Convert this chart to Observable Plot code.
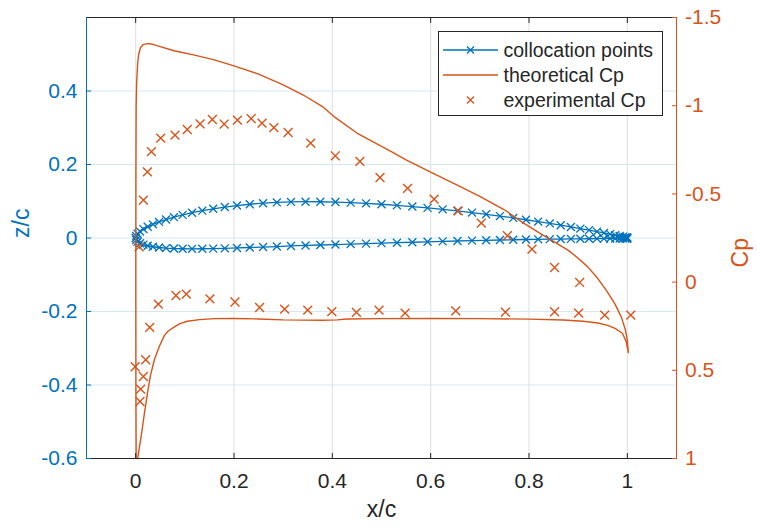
<!DOCTYPE html>
<html><head><meta charset="utf-8">
<script src="https://cdn.jsdelivr.net/npm/d3@7"></script>
<script src="https://cdn.jsdelivr.net/npm/@observablehq/plot@0.6"></script>
<style>
body{margin:0;background:#fff;}
#wrap{position:relative;width:757px;height:530px;font-family:"Liberation Sans",Arial,sans-serif;}
</style></head><body><div id="wrap"></div>
<script>
// ---- data ----
const xTicks = [0, 0.2, 0.4, 0.6, 0.8, 1];
const zTicks = [-0.6, -0.4, -0.2, 0, 0.2, 0.4];
const cpTicks = [-1.5, -1, -0.5, 0, 0.5, 1];
const seriesNames = ["collocation points", "theoretical Cp", "experimental Cp"];

// collocation points (airfoil surface), x/c and z/c
const colX = [0,0.00099,0.00394,0.00886,0.01571,0.02447,0.03511,0.04759,0.06185,0.07784,0.09549,0.11474,0.13552,0.15773,0.18129,0.20611,0.23209,0.25912,0.28711,0.31594,0.34549,0.37566,0.40631,0.43733,0.4686,0.5,0.5314,0.56267,0.59369,0.62434,0.65451,0.68406,0.71289,0.74088,0.76791,0.79389,0.81871,0.84227,0.86448,0.88526,0.90451,0.92216,0.93815,0.95241,0.96489,0.97553,0.98429,0.99114,0.99606,0.99901,1];
const colZUpper = [0,0.0057,0.0117,0.0178,0.0242,0.0306,0.0372,0.0438,0.0503,0.0567,0.0629,0.0688,0.0744,0.0795,0.0842,0.0883,0.0918,0.0947,0.0968,0.0982,0.0988,0.0987,0.0978,0.0963,0.0943,0.0918,0.0889,0.0856,0.0820,0.0780,0.0737,0.0692,0.0645,0.0596,0.0547,0.0497,0.0447,0.0397,0.0348,0.0301,0.0256,0.0214,0.0174,0.0138,0.0106,0.0078,0.0055,0.0037,0.0023,0.0015,0.0013];
const colZLower = [0,-0.0053,-0.0101,-0.0143,-0.0180,-0.0211,-0.0238,-0.0258,-0.0274,-0.0286,-0.0292,-0.0295,-0.0293,-0.0289,-0.0281,-0.0271,-0.0259,-0.0246,-0.0232,-0.0217,-0.0203,-0.0190,-0.0178,-0.0166,-0.0153,-0.0141,-0.0128,-0.0115,-0.0103,-0.0092,-0.0081,-0.0071,-0.0062,-0.0055,-0.0048,-0.0041,-0.0036,-0.0032,-0.0028,-0.0025,-0.0022,-0.0020,-0.0018,-0.0017,-0.0015,-0.0014,-0.0014,-0.0013,-0.0013,-0.0013,-0.0013];

// theoretical Cp (closed loop: upper surface LE->TE, lower surface TE->LE)
const thX = [0.001,0.0005,0.0003,0.0005,0.001,0.002,0.004,0.006,0.010,0.015,0.024,0.035,0.05,0.08,0.12,0.16,0.2,0.25,0.3,0.34,0.38,0.405,0.45,0.5,0.52,0.55,0.6,0.65,0.7,0.75,0.786,0.82,0.854,0.88,0.9,0.92,0.94,0.958,0.975,0.988,0.996,1.0,1.002,0.998,0.99,0.975,0.96,0.94,0.91,0.87,0.8,0.7,0.6,0.5,0.43,0.41,0.38,0.3,0.25,0.2,0.16,0.13,0.105,0.09,0.078,0.065,0.058,0.048,0.038,0.03,0.024,0.018,0.013,0.008,0.004];
const thCp = [1.0,0.6,0.0,-0.6,-1.0,-1.13,-1.24,-1.29,-1.33,-1.346,-1.352,-1.348,-1.335,-1.31,-1.287,-1.26,-1.226,-1.179,-1.118,-1.062,-0.995,-0.935,-0.845,-0.77,-0.74,-0.693,-0.623,-0.555,-0.486,-0.41,-0.34,-0.28,-0.224,-0.18,-0.135,-0.085,-0.02,0.05,0.125,0.2,0.27,0.33,0.4,0.34,0.29,0.262,0.245,0.232,0.222,0.215,0.21,0.207,0.206,0.207,0.209,0.214,0.216,0.214,0.209,0.206,0.207,0.213,0.222,0.235,0.255,0.28,0.305,0.365,0.44,0.53,0.63,0.74,0.84,0.93,1.0];

// experimental Cp
const expX = [0.007,0.0157,0.0239,0.032,0.051,0.08,0.105,0.131,0.156,0.18,0.207,0.235,0.257,0.281,0.31,0.356,0.406,0.456,0.497,0.553,0.607,0.656,0.703,0.756,0.806,0.852,0.903,-0.001,0.0088,0.0102,0.0157,0.0204,0.0286,0.046,0.082,0.103,0.151,0.202,0.252,0.303,0.35,0.399,0.449,0.495,0.548,0.651,0.752,0.852,0.901,0.954,1.007];
const expCp = [-0.2,-0.465,-0.625,-0.74,-0.816,-0.833,-0.865,-0.897,-0.922,-0.896,-0.918,-0.927,-0.901,-0.876,-0.848,-0.788,-0.716,-0.684,-0.593,-0.531,-0.47,-0.404,-0.334,-0.263,-0.187,-0.083,0.002,0.48,0.677,0.607,0.535,0.44,0.257,0.125,0.076,0.068,0.095,0.113,0.144,0.153,0.159,0.167,0.172,0.159,0.176,0.163,0.17,0.168,0.176,0.187,0.187];

// ---- build ----
const BLUE = "#0072BD", ORANGE = "#D95319", DARK = "#262626";
const FONT = "'Liberation Sans', Arial, Helvetica, sans-serif";
// right axis Cp (reversed, -1.5 at top, 1 at bottom) mapped onto left z/c scale (0.6 .. -0.6)
const cpToZ = cp => -0.12 - 0.48 * cp;
const zToCp = z => (-0.12 - z) / 0.48;
const fmt = v => { let r = Math.round(v * 100) / 100; if (Object.is(r, -0)) r = 0; return String(r); };

const colloc = [
  ...colX.map((x, i) => ({x, z: colZLower[i]})).reverse(),
  ...colX.slice(1).map((x, i) => ({x, z: colZUpper[i + 1]}))
];
const theory = thX.map((x, i) => ({x, cp: thCp[i]}));
const expPts = expX.map((x, i) => ({x, cp: expCp[i]}));

const chart = Plot.plot({
  width: 757, height: 530,
  marginLeft: 86, marginRight: 81, marginTop: 17, marginBottom: 72,
  x: {domain: [-0.1, 1.1]},
  y: {domain: [-0.6, 0.6]},
  style: {fontFamily: FONT, background: "white", overflow: "visible"},
  marks: [
    Plot.gridX(xTicks, {stroke: "#dfdfdf", strokeOpacity: 1}),
    Plot.gridY(zTicks, {stroke: "#d6e8f5", strokeOpacity: 1}),
    Plot.line(colloc, {x: "x", y: "z", stroke: BLUE, strokeWidth: 1.3}),
    Plot.dot(colloc, {x: "x", y: "z", symbol: "times", r: 3.7, stroke: BLUE, strokeWidth: 1.3}),
    Plot.line(theory, {x: "x", y: d => cpToZ(d.cp), stroke: ORANGE, strokeWidth: 1.4}),
    Plot.dot(expPts, {x: "x", y: d => cpToZ(d.cp), symbol: "times", r: 4.1, stroke: ORANGE, strokeWidth: 1.4}),
    Plot.ruleY([0.6], {stroke: DARK}),
    Plot.ruleY([-0.6], {stroke: DARK}),
    Plot.ruleX([-0.1], {stroke: BLUE}),
    Plot.ruleX([1.1], {stroke: ORANGE}),
    Plot.axisX(xTicks, {anchor: "bottom", tickSize: -5, tickPadding: 20, tickFormat: fmt, fontSize: 21, color: DARK, label: null}),
    Plot.axisX(xTicks, {anchor: "top", tickSize: -5, tickFormat: () => "", color: DARK, label: null}),
    Plot.axisY(zTicks, {anchor: "left", tickSize: -5, tickPadding: 14, tickFormat: fmt, fontSize: 21, color: BLUE, label: null}),
    Plot.axisY(cpTicks.map(cpToZ), {anchor: "right", tickSize: -5, tickPadding: 13.5, tickFormat: z => fmt(zToCp(z)), fontSize: 21, color: ORANGE, label: null}),
    Plot.text(["z/c"], {text: d => d, frameAnchor: "left", dx: -65, rotate: -90, fontSize: 23, fill: BLUE}),
    Plot.text(["x/c"], {text: d => d, frameAnchor: "bottom", dy: 58, fontSize: 23, fill: DARK}),
    Plot.text(["Cp"], {text: d => d, frameAnchor: "right", dx: 64, rotate: -90, fontSize: 23, fill: ORANGE})
  ]
});
document.getElementById("wrap").appendChild(chart);

// ---- legend (overlay, top-right inside axes) ----
const lg = d3.select("#wrap").append("svg")
  .attr("width", 226).attr("height", 86)
  .style("position", "absolute").style("left", "437.5px").style("top", "31px")
  .style("font-family", FONT);
lg.append("rect").attr("x", 0.5).attr("y", 0.5).attr("width", 224).attr("height", 84)
  .attr("fill", "white").attr("stroke", DARK).attr("stroke-width", 1);
const legendStyles = [
  {stroke: BLUE, line: true, marker: true},
  {stroke: ORANGE, line: true, marker: false},
  {stroke: ORANGE, line: false, marker: true}
];
seriesNames.forEach((name, i) => {
  const cy = 19 + 25 * i;
  const s = legendStyles[i];
  const g = lg.append("g");
  if (s.line) g.append("line").attr("x1", 5).attr("x2", 60).attr("y1", cy).attr("y2", cy)
    .attr("stroke", s.stroke).attr("stroke-width", 1.3);
  if (s.marker) g.append("path").attr("d", `M${32.5-3.5},${cy-3.5}L${32.5+3.5},${cy+3.5}M${32.5-3.5},${cy+3.5}L${32.5+3.5},${cy-3.5}`)
    .attr("stroke", s.stroke).attr("stroke-width", 1.3).attr("fill", "none");
  g.append("text").attr("x", 65.5).attr("y", cy).attr("dy", "0.35em")
    .attr("font-size", 19.5).attr("fill", DARK).text(name);
});
</script>
</body></html>
